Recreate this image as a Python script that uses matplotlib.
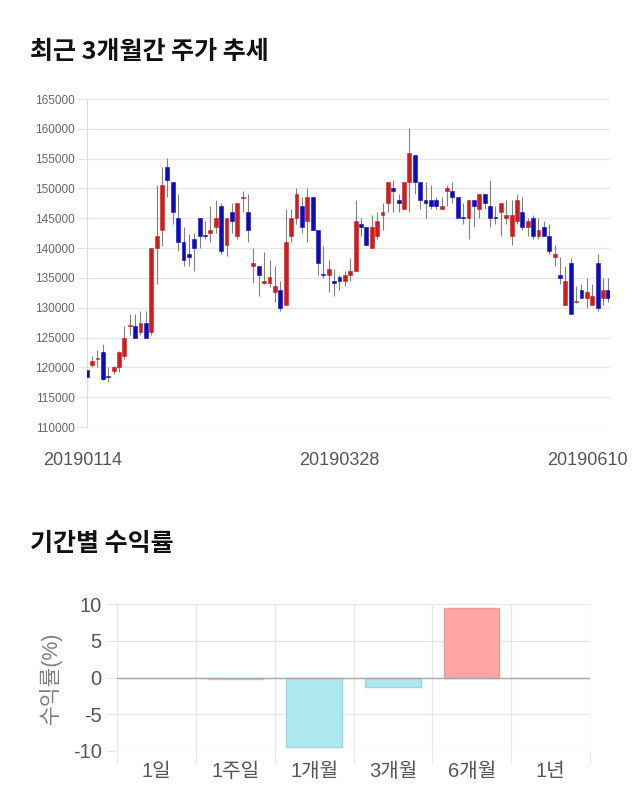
import matplotlib
matplotlib.use('Agg')
import matplotlib.pyplot as plt
import matplotlib.transforms as mtransforms
import numpy as np

plt.rcParams['font.family'] = ['Liberation Sans', 'Noto Sans CJK KR', 'DejaVu Sans']

# 최근 3개월 일봉 (시가, 고가, 저가, 종가)
opens = [119500, 120400, 121400, 122500, 118500, 119400, 120000, 121900, 127000, 127000,
         126000, 127500, 126000, 140000, 143000, 153600, 151000, 145000, 141000, 139000,
         141500, 145000, 142100, 142500, 143500, 147000, 140500, 146000, 142000, 148400,
         146000, 137000, 137000, 134100, 134100, 132600, 133000, 130500, 142100, 145000,
         147000, 144600, 148500, 143000, 135600, 135500, 134500, 135100, 134500, 135500,
         136100, 144000, 143500, 140000, 142100, 145500, 147500, 150000, 148000, 146500,
         151000, 155600, 151000, 148000, 148000, 148000, 146500, 149500, 149500, 148500,
         145100, 145000, 148000, 146500, 149000, 147000, 145100, 146000, 145000, 142000,
         144500, 146000, 143500, 145000, 142000, 143500, 142000, 138500, 135500, 130500,
         137500, 131000, 133000, 131600, 130500, 137500, 131600, 133000]
highs = [119600, 121900, 122900, 124000, 120000, 120300, 122800, 127000, 129000, 129000,
         129500, 129500, 140000, 150500, 153600, 155100, 151000, 149000, 143500, 142300,
         142600, 145000, 144600, 147000, 148000, 147500, 145000, 147500, 147500, 149500,
         149000, 140000, 137000, 139400, 138000, 137000, 134500, 146500, 146500, 150000,
         148500, 150000, 148500, 143000, 140400, 138000, 136500, 135500, 136100, 138400,
         148000, 145000, 143500, 145500, 146000, 147500, 151000, 151500, 149000, 151000,
         160100, 155600, 151000, 151000, 150500, 148500, 148500, 150500, 151000, 148500,
         147500, 148000, 148000, 149000, 149000, 151500, 147000, 147500, 148000, 148000,
         149000, 148500, 145000, 145500, 145000, 144500, 144000, 140500, 138500, 137000,
         138400, 133600, 134000, 135000, 134000, 139000, 135000, 135000]
lows = [115500, 120000, 120100, 117800, 117500, 118900, 119200, 121400, 125500, 125000,
        125500, 124900, 125500, 134000, 140400, 148500, 144000, 139500, 137000, 137000,
        136100, 140000, 141500, 141000, 142500, 139000, 138700, 142500, 141500, 146000,
        141000, 134100, 132000, 134000, 133400, 131000, 129500, 130500, 141000, 144000,
        142500, 141000, 143000, 135500, 135000, 132600, 132000, 133000, 133600, 134500,
        136100, 142000, 140500, 140000, 141500, 143000, 146000, 146000, 146000, 146500,
        146000, 149000, 146500, 145000, 146500, 146500, 146500, 147000, 147500, 145000,
        144000, 141500, 143500, 145000, 146500, 143500, 144000, 142000, 144000, 140500,
        144000, 143000, 142000, 141500, 141500, 142000, 139000, 137000, 134000, 130500,
        129000, 130800, 131600, 130000, 130500, 129500, 130500, 131000]
closes = [118400, 121000, 121600, 118000, 118400, 120000, 122500, 125000, 127100, 125000,
          127500, 125000, 140000, 142000, 150500, 151500, 146000, 141000, 138000, 138500,
          140000, 142000, 142000, 143000, 145000, 139500, 145000, 144500, 147500, 148500,
          143000, 137500, 135500, 134500, 135100, 133600, 130000, 141000, 145000, 149000,
          143500, 148500, 143000, 137500, 135500, 136500, 134100, 134500, 135500, 136100,
          144600, 143500, 140500, 143500, 144600, 146000, 151000, 149500, 147500, 151000,
          156000, 151000, 148000, 147500, 147000, 147000, 147000, 150000, 148500, 145000,
          145000, 148000, 147000, 149000, 147500, 145000, 145000, 147500, 145500, 145500,
          148000, 143500, 144500, 142000, 143000, 142000, 139500, 139000, 135000, 134500,
          129000, 131100, 131600, 132600, 132000, 130000, 133000, 131600]
date_labels = ['20190114', '20190328', '20190610']
date_index = [0, 47, 97]

# 기간별 수익률
periods = ['1일', '1주일', '1개월', '3개월', '6개월', '1년']
returns = [0.0, -0.2, -9.4, -1.3, 9.5, 0.0]

fig = plt.figure(figsize=(6.4, 8.1), dpi=100)

title_font = ['Noto Sans CJK KR', 'DejaVu Sans']
fig.text(30 / 640, 1 - 52 / 810, '최근 3개월간 주가 추세', fontsize=18, family=title_font,
         fontweight='bold', va='center', ha='left', color='#111111')
fig.text(30 / 640, 1 - 544 / 810, '기간별 수익률', fontsize=18, family=title_font,
         fontweight='bold', va='center', ha='left', color='#111111')

# ---- 캔들 차트 ----
ax = fig.add_axes([86.7 / 640, 1 - 427 / 810, 523.3 / 640, 328 / 810])
x = np.arange(len(opens))
o = np.array(opens)
c = np.array(closes)
up = c >= o
colors = np.where(up, '#d01c1c', '#0c0cbc')
body_lo = np.minimum(o, c)
body_h = np.maximum(np.abs(c - o), 180)

ax.vlines(x, lows, highs, color='#808080', lw=0.8, zorder=2)
ax.bar(x, body_h, bottom=body_lo, width=0.72, color=colors,
       edgecolor=colors, lw=0.4, zorder=3)

ax.set_xlim(0, 97.3)
ax.set_ylim(110000, 165000)
ax.set_yticks(range(110000, 165001, 5000))
ax.grid(axis='y', color='#e6e6e6', lw=0.9)
ax.set_axisbelow(True)
for s in ['top', 'right', 'bottom']:
    ax.spines[s].set_visible(False)
ax.spines['left'].set_color('#dddddd')
ax.tick_params(axis='y', length=7, color='#e6e6e6', labelsize=8.5,
               labelcolor='#666666', pad=1.5)
ax.set_xticks(date_index)
ax.set_xticklabels(date_labels)
ax.tick_params(axis='x', length=0, labelsize=13, labelcolor='#555555', pad=18)
lbls = ax.get_xticklabels()
lbls[0].set_transform(lbls[0].get_transform() +
                      mtransforms.ScaledTranslation(-0.04, 0, fig.dpi_scale_trans))
lbls[-1].set_transform(lbls[-1].get_transform() +
                       mtransforms.ScaledTranslation(-0.21, 0, fig.dpi_scale_trans))

# ---- 수익률 막대 ----
ax2 = fig.add_axes([117 / 640, 1 - 751 / 810, 473 / 640, 147 / 810])
xp = np.arange(len(periods))
bar_colors = ['#ffa6a6' if v > 0 else '#b0e8f2' for v in returns]
edge_colors = ['#ee9a9a' if v > 0 else '#9fd6e0' for v in returns]
vals = [v if v != 0 else np.nan for v in returns]
ax2.bar(xp, vals, width=0.7, color=bar_colors, edgecolor=edge_colors,
        lw=1, zorder=3)
ax2.axhline(0, color='#a8a8a8', lw=1, zorder=4)
ax2.set_xlim(-0.5, 5.5)
ax2.set_ylim(-10, 10)
ax2.set_yticks([-10, -5, 0, 5, 10])
ax2.set_yticklabels(['-10', '-5', '0', '5', '10'])
ax2.set_xticks(xp)
ax2.set_xticklabels(periods)
ax2.set_xticks(np.arange(-0.5, 6, 1), minor=True)
ax2.grid(axis='y', color='#e6e6e6', lw=0.9)
ax2.grid(axis='x', which='minor', color='#e6e6e6', lw=0.9)
ax2.set_axisbelow(True)
for s in ax2.spines.values():
    s.set_visible(False)
ax2.tick_params(axis='x', which='major', length=0, labelsize=14.5,
                labelcolor='#555555', pad=8)
ax2.tick_params(axis='x', which='minor', length=9, color='#e6e6e6')
ax2.tick_params(axis='y', length=8, color='#e6e6e6', labelsize=14.5,
                labelcolor='#555555', pad=3)
ax2.set_ylabel('수익률(%)', fontsize=15.5, color='#808080', labelpad=8)

fig.savefig('out.png', dpi=100)
